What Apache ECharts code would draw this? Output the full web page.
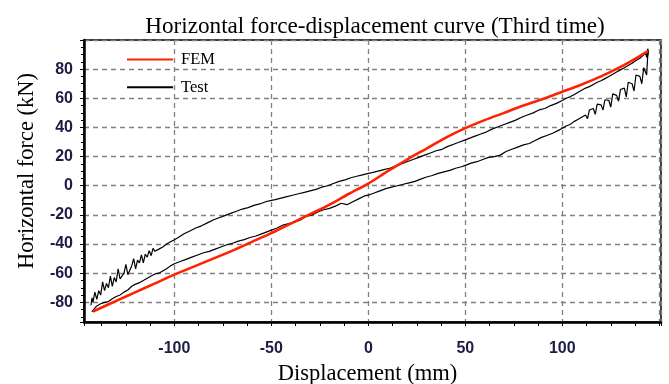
<!DOCTYPE html>
<html>
<head>
<meta charset="utf-8">
<script src="https://cdn.jsdelivr.net/npm/echarts@6/dist/echarts.min.js"></script>
<style>html,body{margin:0;padding:0;background:#fff}#c{width:669px;height:384px}</style>
</head>
<body>
<div id="c"></div>
<script>
var titleText = 'Horizontal force-displacement curve (Third time)';
var xName = 'Displacement (mm)';
var yName = 'Horizontal force (kN)';
var seriesNames = ['FEM', 'Test'];

var femDisp  = [-142, -130, -120, -110, -100, -90, -80, -70, -60, -50, -40, -30, -20, -10, 0, 10, 20, 30, 40, 50, 60, 70, 80, 90, 100, 110, 120, 130, 140, 144.3];
var femForce = [-86.3, -79, -73, -67, -61, -55.5, -50, -44.5, -38.5, -32.5, -26, -19.5, -13, -5.5, 1.5, 10, 18, 25.5, 33, 39.5, 45, 50, 55, 59.5, 64.5, 69.5, 75, 81.5, 89, 92.5];

// Test: loading branch (lower), from bottom-left to top-right
var testLoadDisp = [-142.5, -141, -140, -138, -136, -134, -132, -130, -128, -126, -124, -122, -120, -118, -116, -114, -112, -110, -108, -106, -104, -102, -100, -97, -94, -91, -88, -85, -82, -79, -76, -73, -70, -67, -64, -61, -58, -55, -52, -50, -47, -44, -41, -38, -35, -32, -29, -26, -23, -20, -17, -14, -11, -8, -5, -2, 0, 3, 6, 9, 12, 15, 18, 21, 24, 27, 30, 33, 36, 39, 42, 45, 48, 50, 53, 56, 59, 62, 65, 68, 71, 74, 77, 80, 83, 86, 89, 92, 95, 98, 100, 102, 104, 106, 108, 110, 112, 113, 114, 116, 117, 118, 120, 121, 122, 124, 125, 126, 128, 129, 130, 132, 133, 134, 136, 137, 138, 140, 141, 142, 143, 143.5, 144, 144.5];
var testLoadForce = [-86.5, -84, -82.5, -81, -80, -79.5, -77.5, -76, -75, -73, -71.5, -69, -67.5, -66.5, -65, -63.5, -62, -60.5, -60, -58.5, -57, -55, -53.5, -52, -50.5, -49, -47.5, -46, -45, -43.5, -42, -40.5, -39.5, -38, -37, -35.5, -34.5, -33, -31.5, -30.5, -29, -27, -26, -25, -23.5, -21, -20, -18, -16.5, -15.5, -14, -12, -13, -11, -9, -7, -6.5, -5, -3.5, -2, -1, 0, 1, 2, 3, 4.5, 6, 7, 8.5, 9.5, 10.5, 12, 13, 14, 15.5, 16.5, 18, 19.5, 20, 21, 23.5, 25, 26.5, 28, 29, 31, 33, 34.5, 36, 38, 39.5, 41, 42, 44, 45.5, 47, 48.5, 46, 52, 53, 49, 56, 55.5, 52, 59, 58.5, 54, 63, 62, 58, 66, 67, 61, 71, 70, 65, 76, 75, 70, 81, 80, 76, 88, 92];

// Test: unloading branch (upper), from top-right back to bottom-left
var testUnloadDisp = [144, 143.5, 143, 142, 140, 138, 136, 134, 132, 130, 128, 126, 124, 122, 120, 118, 116, 114, 112, 110, 108, 106, 104, 102, 100, 97, 94, 91, 88, 85, 82, 79, 76, 73, 70, 67, 64, 61, 58, 55, 52, 50, 47, 44, 41, 38, 35, 32, 29, 26, 23, 20, 17, 14, 11, 8, 5, 2, 0, -3, -6, -9, -12, -15, -18, -21, -24, -27, -30, -33, -36, -39, -42, -45, -48, -50, -53, -56, -59, -62, -65, -68, -71, -74, -77, -80, -83, -86, -89, -92, -95, -98, -100, -102, -104, -106, -108, -110, -111, -112, -113, -114, -115, -116, -117, -118, -119, -120, -121, -122, -123, -124, -125, -126, -127, -128, -129, -130, -131, -132, -133, -134, -135, -136, -137, -138, -139, -140, -141, -142, -142.5, -143];
var testUnloadForce = [94, 88, 91, 90, 87.5, 86, 84, 82.5, 81, 79.5, 78, 76.5, 75, 73.5, 72, 71, 69.5, 68, 67, 65.5, 64, 62.5, 61, 60, 58.5, 56.5, 55, 53, 52, 50, 48.5, 47, 45, 43.5, 42, 40.5, 39, 37, 35.5, 34, 32.5, 31.5, 30, 28.5, 27, 25, 24, 22.5, 21, 19.5, 18, 16.5, 15, 13.5, 12, 11, 10, 9, 8.5, 7.5, 6.5, 5.5, 4, 3, 1.5, 0, -1, -2.5, -3.5, -4.5, -5.5, -6.5, -7.5, -8.5, -9.5, -10, -11, -12.5, -13.5, -15, -16, -17.5, -19, -20.5, -22, -23.5, -25.5, -27.5, -29, -31, -33, -35.5, -37, -38.5, -40, -42, -43.5, -45, -43, -48, -44.5, -49, -47, -53, -47.5, -53, -51, -57, -50, -55, -56, -61, -54, -60, -59, -64, -57, -66, -63, -69, -62, -70, -67, -72, -66, -75, -72, -78, -73, -80, -77, -82, -79, -86];

var xMin = -146.6, xMax = 150.9;
var yMin = -93.5, yMax = 100;

function pairs(xs, ys) { var out = []; for (var i = 0; i < xs.length; i++) out.push([xs[i], ys[i]]); return out; }
var femData = pairs(femDisp, femForce);
var testData = pairs(testLoadDisp.concat(testUnloadDisp), testLoadForce.concat(testUnloadForce));

var chart = echarts.init(document.getElementById('c'), null, {renderer: 'canvas'});
var serif = '"Liberation Serif", "DejaVu Serif", serif';
var sans = '"Liberation Sans", Arial, sans-serif';
var gridLine = {show: true, lineStyle: {color: '#808080', width: 1.3, type: [5, 4]}};
chart.setOption({
  animation: false,
  backgroundColor: '#fff',
  title: {
    text: titleText, left: 370, top: 10, textAlign: 'center',
    textStyle: {fontFamily: serif, fontSize: 23.2, fontWeight: 'normal', color: '#000'}
  },
  legend: {
    data: seriesNames, orient: 'vertical', left: 126, top: 51, padding: 0,
    itemWidth: 46, itemHeight: 20, itemGap: 10.8,
    itemStyle: {opacity: 0},
    textStyle: {fontFamily: serif, fontSize: 16.5, color: '#000', padding: [0, 0, 0, 3]}
  },
  grid: {left: 84, top: 40, right: 8, bottom: 62, outerBoundsMode: 'none', containLabel: false,
         show: true, borderColor: '#000', borderWidth: 1.5, backgroundColor: 'transparent'},
  xAxis: {
    type: 'value', min: xMin, max: xMax, splitNumber: 6, minInterval: 50, maxInterval: 50,
    name: xName, nameLocation: 'middle', nameGap: 41,
    nameTextStyle: {fontFamily: serif, fontSize: 22.5, color: '#000', padding: [0, 10, 0, 0]},
    axisLine: {show: true, onZero: false, lineStyle: {color: '#000', width: 2.5}},
    axisTick: {show: true, length: 4, lineStyle: {color: '#000', width: 1}},
    minorTick: {show: true, splitNumber: 4, length: 4, lineStyle: {color: '#000', width: 1}},
    splitLine: gridLine,
    axisLabel: {
      margin: 19, fontFamily: sans, fontSize: 16, fontWeight: 'bold', color: '#1c1c44',
      showMinLabel: false, showMaxLabel: false,
      formatter: function (v) { return (Math.abs(v) <= 100 && Math.abs(v % 50) < 1e-6) ? String(Math.round(v)) : ''; }
    }
  },
  yAxis: {
    type: 'value', min: yMin, max: yMax, splitNumber: 10, minInterval: 20, maxInterval: 20,
    name: yName, nameLocation: 'middle', nameGap: 32, nameRotate: 90,
    nameTextStyle: {fontFamily: serif, fontSize: 22.5, color: '#000', padding: [0, 0, 0, 20]},
    axisLine: {show: true, onZero: false, lineStyle: {color: '#000', width: 2.5}},
    axisTick: {show: true, length: 4, lineStyle: {color: '#000', width: 1}},
    minorTick: {show: true, splitNumber: 4, length: 3, lineStyle: {color: '#000', width: 1}},
    splitLine: gridLine,
    axisLabel: {
      margin: 11, fontFamily: sans, fontSize: 16, fontWeight: 'bold', color: '#1c1c44',
      showMinLabel: false, showMaxLabel: false,
      formatter: function (v) { return (Math.abs(v) <= 80 && Math.abs(v % 20) < 1e-6) ? String(Math.round(v)) : ''; }
    }
  },
  series: [
    {name: 'FEM', type: 'line', data: femData, symbol: 'none', smooth: 0.3, z: 4,
     lineStyle: {color: '#ff2200', width: 2.6}, itemStyle: {color: '#ff2200'}},
    {name: 'Test', type: 'line', data: testData, symbol: 'none', z: 3,
     lineStyle: {color: '#000', width: 1.2}, itemStyle: {color: '#000'}}
  ]
});
</script>
</body>
</html>
